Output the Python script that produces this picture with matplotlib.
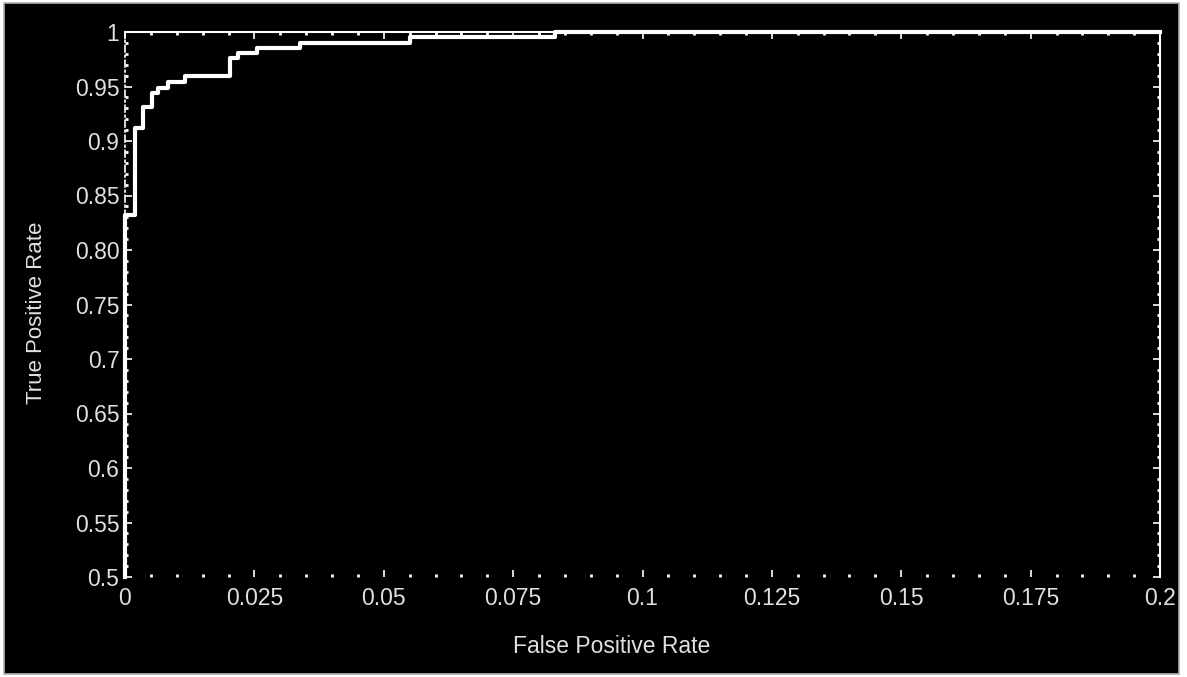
import matplotlib
matplotlib.use('Agg')
import matplotlib.pyplot as plt
from matplotlib.patches import Rectangle
from matplotlib.ticker import MultipleLocator

# ROC curve step points
fpr = [0.0, 0.0, 0.0, 0.0019, 0.0019, 0.0035, 0.0035, 0.0052, 0.0052, 0.0064, 0.0064,
       0.0083, 0.0083, 0.0116, 0.0116, 0.0203, 0.0203, 0.0218, 0.0218, 0.0255, 0.0255,
       0.0338, 0.0338, 0.055, 0.055, 0.083, 0.083, 0.2]
tpr = [0.5, 0.832, 0.832, 0.832, 0.912, 0.912, 0.931, 0.931, 0.944, 0.944, 0.949,
       0.949, 0.954, 0.954, 0.960, 0.960, 0.976, 0.976, 0.981, 0.981, 0.985,
       0.985, 0.990, 0.990, 0.995, 0.995, 1.0, 1.0]

xticks = [0, 0.025, 0.05, 0.075, 0.1, 0.125, 0.15, 0.175, 0.2]
xlabels = ['0', '0.025', '0.05', '0.075', '0.1', '0.125', '0.15', '0.175', '0.2']
yticks = [0.5, 0.55, 0.6, 0.65, 0.7, 0.75, 0.8, 0.85, 0.9, 0.95, 1.0]
ylabels = ['0.5', '0.55', '0.6', '0.65', '0.7', '0.75', '0.80', '0.85', '0.9', '0.95', '1']

plt.rcParams['font.family'] = ['Liberation Sans', 'DejaVu Sans']
txt = '#e0e0e0'

fig = plt.figure(figsize=(11.87, 6.77), dpi=100, facecolor='white')
fig.patches.append(Rectangle((4 / 1187, 3 / 677), 1175 / 1187, 671 / 677,
                             transform=fig.transFigure, facecolor='black',
                             edgecolor='#b0b0b0', linewidth=1.2, zorder=-1))

ax = fig.add_axes([125 / 1187, 1 - 577 / 677, 1035 / 1187, 545 / 677])
ax.set_facecolor('black')
ax.plot(fpr, tpr, color='white', linewidth=3, clip_on=False, zorder=5)

ax.set_xlim(0, 0.2)
ax.set_ylim(0.5, 1.0)
ax.set_xticks(xticks)
ax.set_xticklabels(xlabels)
ax.set_yticks(yticks)
ax.set_yticklabels(ylabels)
ax.xaxis.set_minor_locator(MultipleLocator(0.005))
ax.yaxis.set_minor_locator(MultipleLocator(0.01))

ax.tick_params(which='both', direction='in', colors='white', labelcolor=txt,
               labelsize=16.5, top=True, right=True)
ax.tick_params(which='major', length=5, width=1.2)
ax.tick_params(which='minor', length=2, width=2)
ax.tick_params(axis='x', pad=7)
ax.tick_params(axis='y', pad=4)

ax.spines['bottom'].set_visible(False)
ax.spines['left'].set_color('white')
ax.spines['left'].set_linestyle((0, (4, 2, 1, 2)))
ax.spines['left'].set_linewidth(1.2)
ax.spines['top'].set_color('white')
ax.spines['top'].set_linewidth(1.5)
ax.spines['right'].set_color('white')
ax.spines['right'].set_linewidth(1.5)

ax.set_xlabel('False Positive Rate', color=txt, fontsize=16.5)
ax.set_ylabel('True Positive Rate', color=txt, fontsize=16)
ax.xaxis.set_label_coords(0.4705, -0.106)
ax.yaxis.set_label_coords(-0.075, 0.485)

fig.savefig('out.png', dpi=100, facecolor=fig.get_facecolor())
